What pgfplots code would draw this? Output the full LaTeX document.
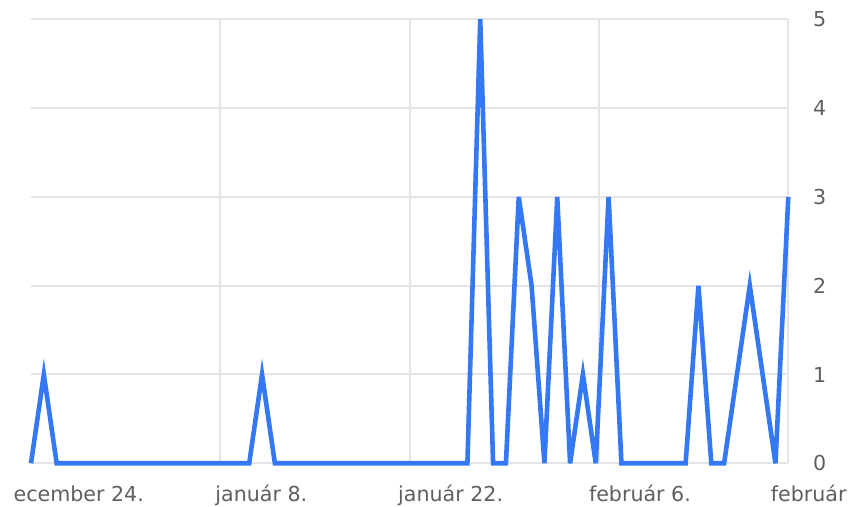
\documentclass[border=0pt]{standalone}
\usepackage{pgfplots}
\pgfplotsset{compat=1.18}
\usepackage{fontspec}
\setmainfont{DejaVu Sans}
\definecolor{lineblue}{RGB}{52,120,246}
\definecolor{gridgray}{RGB}{229,229,231}
\definecolor{labelgray}{RGB}{95,95,95}
\begin{document}
\begin{tikzpicture}
\useasboundingbox (0,0) rectangle (851bp,507bp);
\begin{axis}[
  at={(31bp,43.7bp)}, anchor=south west,
  width=757.3bp, height=444bp, scale only axis,
  xmin=0, xmax=59, ymin=0, ymax=5,
  clip=false,
  axis line style={draw=none},
  major tick length=0pt,
  /pgf/number format/assume math mode=true,
  tick label style={font=\fontsize{20.6bp}{24bp}\selectfont, text=labelgray, inner sep=0pt},
  xtick={14.75,29.5,44.25,59},
  xticklabels={január 8.,január 22.,február 6.,{}},
  xticklabel style={anchor=base, xshift=41bp, yshift=-38.4bp},
  extra x ticks={0,59},
  extra x tick labels={ecember 24.,február},
  extra x tick style={grid=none, xticklabel style={anchor=base west, xshift=-58.6bp}},
  ytick={0,1,2,3,4,5},
  yticklabel pos=right,
  yticklabel style={anchor=west, xshift=24.7bp},
  grid=major,
  major grid style={draw=gridgray, line width=2bp},
]
\addplot[color=lineblue, line width=4.6bp, line join=miter, mark=none] coordinates {
(0,0) (1,1) (2,0) (3,0) (4,0) (5,0) (6,0) (7,0) (8,0) (9,0) (10,0)
(11,0) (12,0) (13,0) (14,0) (15,0) (16,0) (17,0) (18,1) (19,0) (20,0)
(21,0) (22,0) (23,0) (24,0) (25,0) (26,0) (27,0) (28,0) (29,0) (30,0)
(31,0) (32,0) (33,0) (34,0) (35,5) (36,0) (37,0) (38,3) (39,2) (40,0)
(41,3) (42,0) (43,1) (44,0) (45,3) (46,0) (47,0) (48,0) (49,0) (50,0)
(51,0) (52,2) (53,0) (54,0) (55,1) (56,2) (57,1) (58,0) (59,3)
};
\end{axis}
\end{tikzpicture}
\end{document}
